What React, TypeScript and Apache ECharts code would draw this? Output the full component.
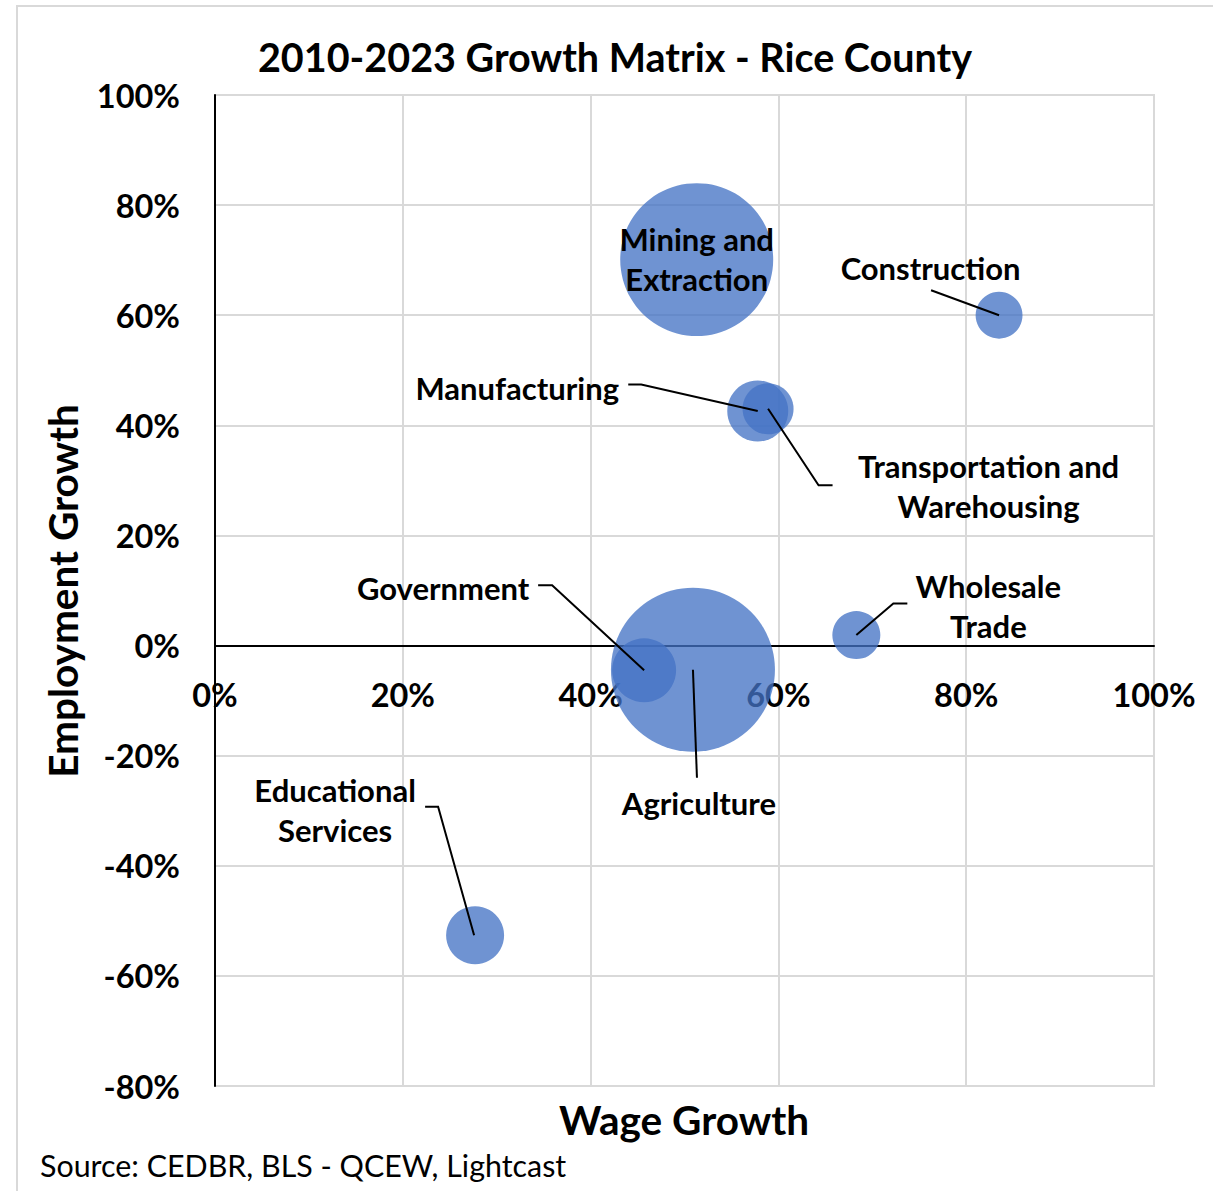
import React, { useEffect, useRef } from "react";
import * as echarts from "echarts";

// ---- data ----
const industries = [
  "Mining and Extraction",
  "Construction",
  "Manufacturing",
  "Transportation and Warehousing",
  "Wholesale Trade",
  "Government",
  "Agriculture",
  "Educational Services",
];
const labelTexts = [
  "Mining and\nExtraction",
  "Construction",
  "Manufacturing",
  "Transportation and\nWarehousing",
  "Wholesale\nTrade",
  "Government",
  "Agriculture",
  "Educational\nServices",
];
const wageGrowth = [51.3, 83.5, 57.8, 58.9, 68.3, 45.7, 50.9, 27.7];
const employmentGrowth = [70.1, 60.0, 42.6, 43.0, 1.9, -4.5, -4.4, -52.6];
const bubbleSize = [5850, 550, 930, 650, 576, 1024, 6724, 841];

const xMin = 0;
const xMax = 100;
const yMin = -80;
const yMax = 100;
const tickStep = 20;

const titleText = "2010-2023 Growth Matrix - Rice County";
const xAxisTitle = "Wage Growth";
const yAxisTitle = "Employment Growth";
const sourceText = "Source: CEDBR, BLS - QCEW, Lightcast";

// ---- layout (pixel offsets relative to each bubble centre) ----
const labelOffsets: number[][] = [
  [0, -0.5],
  [-68.5, -47],
  [-240.5, -23.5],
  [220.5, 77.5],
  [132, -29.5],
  [-201, -82],
  [6, 133],
  [-140, -125.5],
];
const leaderLines: (number[][] | null)[] = [
  null,
  [[-68, -25], [0, 0]],
  [[-129.5, -26.5], [-116.5, -26.5], [0, 0]],
  [[0, 0], [50.5, 76.5], [64.5, 76.5]],
  [[0, 0], [37, -31.5], [51, -31.5]],
  [[-106, -85], [-92, -85], [0, 0]],
  [[0, 0], [4, 108]],
  [[-50, -128.5], [-37, -128.5], [-1, 0]],
];

const FONT = "Lato";
const maxDiameter = 164;
const maxSize = Math.max(...bubbleSize);
const GRID = { left: 215, top: 95, right: 59, bottom: 105 };
const CH = 1191;

export default function App() {
  const ref = useRef<HTMLDivElement>(null);
  useEffect(() => {
    document.body.style.margin = "0";
    if (!ref.current) return;
    const chart = echarts.init(ref.current, null, { renderer: "svg" });
    const data = industries.map((name, i) => ({
      name,
      value: [wageGrowth[i], employmentGrowth[i], bubbleSize[i]],
      label: { offset: labelOffsets[i] },
    }));
    // place the horizontal axis where employment growth is zero
    const gridH = CH - GRID.top - GRID.bottom;
    const zeroOffset = -(gridH * (0 - yMin)) / (yMax - yMin);
    chart.setOption({
      animation: false,
      backgroundColor: "#ffffff",
      textStyle: { fontFamily: FONT },
      grid: {
        ...GRID,
        show: true,
        borderColor: "#D9D9D9",
        borderWidth: 2,
        containLabel: false,
      },
      xAxis: {
        type: "value",
        min: xMin,
        max: xMax,
        interval: tickStep,
        position: "bottom",
        offset: zeroOffset,
        axisLine: { onZero: false, lineStyle: { color: "#000000", width: 2 } },
        axisTick: { show: false },
        splitLine: { lineStyle: { color: "#D9D9D9", width: 2 } },
        axisLabel: {
          formatter: (v: number) => `${v}%`,
          color: "#000000",
          fontWeight: "bold",
          fontSize: 32.5,
          fontFamily: FONT,
          margin: 32,
        },
      },
      yAxis: {
        type: "value",
        min: yMin,
        max: yMax,
        interval: tickStep,
        axisLine: { show: true, onZero: false, lineStyle: { color: "#000000", width: 2 } },
        axisTick: { show: false },
        splitLine: { lineStyle: { color: "#D9D9D9", width: 2 } },
        axisLabel: {
          formatter: (v: number) => `${v}%`,
          color: "#000000",
          fontWeight: "bold",
          fontSize: 32.5,
          fontFamily: FONT,
          margin: 35,
          padding: [0, 0, 3, 0],
        },
      },
      series: [
        {
          type: "scatter",
          data,
          symbol: "circle",
          symbolSize: (val: number[]) => maxDiameter * Math.sqrt(val[2] / maxSize),
          itemStyle: { color: "rgba(68,114,196,0.77)", opacity: 1 },
          label: {
            show: true,
            position: "inside",
            formatter: (p: any) => labelTexts[p.dataIndex],
            color: "#000000",
            textBorderWidth: 0,
            fontWeight: "bold",
            fontSize: 31,
            lineHeight: 40,
            fontFamily: FONT,
            align: "center",
            verticalAlign: "middle",
          },
          emphasis: { disabled: true },
          z: 3,
        },
      ],
    });

    const graphics: any[] = [
      {
        type: "rect",
        shape: { x: 17, y: 6, width: 1400, height: 1400 },
        style: { fill: "none", stroke: "#D9D9D9", lineWidth: 2 },
        z: -1,
        silent: true,
      },
      {
        type: "text",
        x: 615,
        y: 56,
        style: {
          text: titleText,
          fontFamily: FONT,
          fontWeight: "bold",
          fontSize: 39.5,
          fill: "#000000",
          align: "center",
          verticalAlign: "middle",
        },
      },
      {
        type: "text",
        x: 684,
        y: 1119,
        style: {
          text: xAxisTitle,
          fontFamily: FONT,
          fontWeight: "bold",
          fontSize: 40.5,
          fill: "#000000",
          align: "center",
          verticalAlign: "middle",
        },
      },
      {
        type: "text",
        x: 62,
        y: 591,
        rotation: Math.PI / 2,
        style: {
          text: yAxisTitle,
          fontFamily: FONT,
          fontWeight: "bold",
          fontSize: 40.5,
          fill: "#000000",
          align: "center",
          verticalAlign: "middle",
        },
      },
      {
        type: "text",
        x: 40,
        y: 1165,
        style: {
          text: sourceText,
          fontFamily: FONT,
          fontSize: 30.4,
          fill: "#000000",
          align: "left",
          verticalAlign: "middle",
        },
      },
    ];

    industries.forEach((_, i) => {
      const pts = leaderLines[i];
      if (!pts) return;
      const c = chart.convertToPixel({ gridIndex: 0 }, [wageGrowth[i], employmentGrowth[i]]) as number[];
      graphics.push({
        type: "polyline",
        shape: { points: pts.map((p) => [c[0] + p[0], c[1] + p[1]]) },
        style: { stroke: "#000000", lineWidth: 2, fill: "none" },
        z: 10,
        silent: true,
      });
    });

    chart.setOption({ graphic: graphics });
    return () => chart.dispose();
  }, []);
  return <div ref={ref} style={{ width: 1213, height: 1191 }} />;
}
